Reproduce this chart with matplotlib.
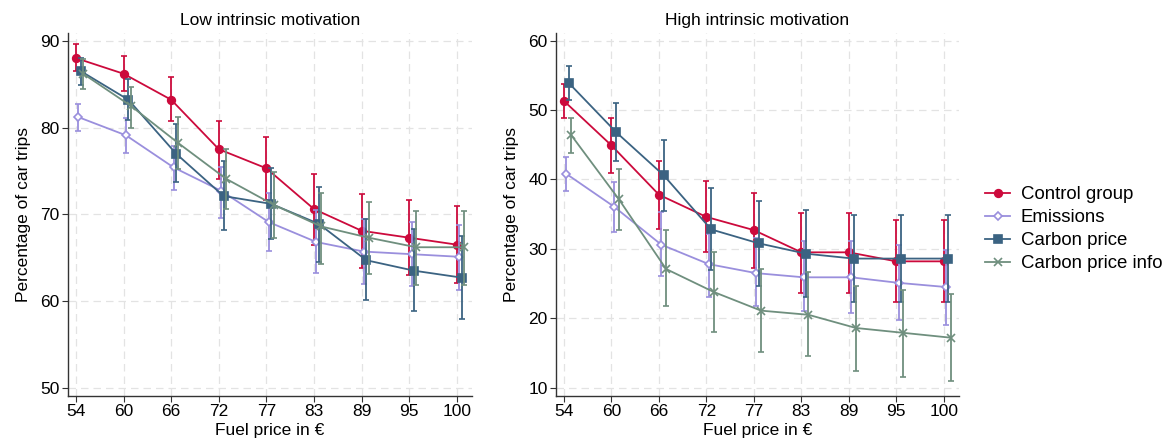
import numpy as np
import matplotlib
matplotlib.use("Agg")
import matplotlib.pyplot as plt

plt.rcParams['font.family'] = ['Liberation Sans', 'DejaVu Sans']

# --- data ---
prices = ['54', '60', '66', '72', '77', '83', '89', '95', '100']
groups = ['Control group', 'Emissions', 'Carbon price', 'Carbon price info']

# low intrinsic motivation: mean, upper CI, lower CI
low_control = [88.0, 86.2, 83.2, 77.5, 75.3, 70.6, 68.1, 67.3, 66.5]
low_control_hi = [89.6, 88.2, 85.8, 80.8, 78.9, 74.6, 72.3, 71.6, 70.9]
low_control_lo = [86.5, 84.2, 80.8, 74.1, 71.7, 66.5, 63.8, 63.0, 62.1]

low_emis = [81.2, 79.1, 75.4, 72.7, 69.1, 66.8, 65.7, 65.4, 65.1]
low_emis_hi = [82.7, 81.1, 77.9, 75.5, 72.5, 70.5, 69.4, 69.1, 68.8]
low_emis_lo = [79.6, 77.1, 72.8, 69.6, 65.8, 63.2, 62.0, 61.7, 61.3]

low_cp = [86.5, 83.2, 77.0, 72.1, 71.2, 68.9, 64.7, 63.5, 62.7]
low_cp_hi = [88.0, 85.6, 80.4, 76.1, 75.3, 73.1, 69.4, 68.3, 67.5]
low_cp_lo = [84.9, 80.9, 73.7, 68.2, 67.2, 64.5, 60.1, 58.8, 57.9]

low_info = [86.2, 82.5, 78.2, 74.1, 71.1, 68.6, 67.3, 66.2, 66.2]
low_info_hi = [87.9, 84.7, 81.2, 77.5, 74.9, 72.5, 71.4, 70.4, 70.4]
low_info_lo = [84.5, 80.0, 75.2, 70.6, 67.3, 64.3, 63.1, 61.9, 61.9]

# high intrinsic motivation
high_control = [51.3, 44.9, 37.8, 34.6, 32.7, 29.5, 29.5, 28.2, 28.2]
high_control_hi = [53.8, 48.8, 42.7, 39.8, 38.1, 35.2, 35.2, 34.1, 34.1]
high_control_lo = [48.8, 40.9, 32.9, 29.5, 27.3, 23.7, 23.7, 22.3, 22.3]

high_emis = [40.8, 36.1, 30.6, 27.8, 26.5, 25.9, 25.9, 25.1, 24.5]
high_emis_hi = [43.3, 39.7, 35.3, 32.2, 31.6, 31.1, 31.1, 30.5, 29.9]
high_emis_lo = [38.3, 32.4, 26.1, 23.0, 21.7, 21.0, 20.7, 19.8, 19.0]

high_cp = [53.9, 46.8, 40.6, 32.8, 30.8, 29.3, 28.6, 28.6, 28.6]
high_cp_hi = [56.4, 51.0, 45.7, 38.8, 36.9, 35.6, 34.9, 34.9, 34.9]
high_cp_lo = [51.4, 42.6, 35.4, 27.0, 24.7, 23.1, 22.3, 22.3, 22.3]

high_info = [46.4, 37.2, 27.1, 23.8, 21.1, 20.5, 18.6, 17.9, 17.2]
high_info_hi = [48.9, 41.5, 32.7, 29.6, 27.1, 26.6, 24.7, 24.1, 23.5]
high_info_lo = [43.8, 32.7, 21.7, 18.0, 15.2, 14.5, 12.4, 11.6, 10.9]

colors = ['#CC0A3C', '#9A8FDD', '#3B6382', '#6F8F7E']
markers = ['o', 'D', 's', 'x']
offsets = [0.0, 0.05, 0.1, 0.15]

panels = [
    ('Low intrinsic motivation',
     [(low_control, low_control_lo, low_control_hi),
      (low_emis, low_emis_lo, low_emis_hi),
      (low_cp, low_cp_lo, low_cp_hi),
      (low_info, low_info_lo, low_info_hi)],
     [50, 60, 70, 80, 90], (49.05, 90.9)),
    ('High intrinsic motivation',
     [(high_control, high_control_lo, high_control_hi),
      (high_emis, high_emis_lo, high_emis_hi),
      (high_cp, high_cp_lo, high_cp_hi),
      (high_info, high_info_lo, high_info_hi)],
     [10, 20, 30, 40, 50, 60], (8.8, 61.1)),
]

fig = plt.figure(figsize=(11.66, 4.43), dpi=100)
axes_pos = [[0.0583, 0.1061, 0.3465, 0.8194], [0.4768, 0.1061, 0.3456, 0.8194]]

x = np.arange(len(prices))
handles = []
for pos, (title, series, yticks, ylim) in zip(axes_pos, panels):
    ax = fig.add_axes(pos)
    for i, (m, lo, hi) in enumerate(series):
        m = np.array(m)
        err = [m - np.array(lo), np.array(hi) - m]
        face = 'white' if markers[i] == 'D' else colors[i]
        h = ax.errorbar(x + offsets[i], m, yerr=err, color=colors[i], marker=markers[i],
                        ms=5.5 if markers[i] != 'D' else 4.5, mfc=face, mec=colors[i],
                        mew=1.2, lw=1.3, elinewidth=1.3, capsize=2, capthick=1.3,
                        label=groups[i], zorder=3 + i)
        if len(handles) < 4:
            handles.append(h[0])
    ax.set_xticks(x)
    ax.set_xticklabels(prices)
    ax.set_yticks(yticks)
    ax.set_xlim(-0.17, 8.32)
    ax.set_ylim(*ylim)
    ax.grid(True, ls=(0, (6, 4)), color='#e3e3e3', lw=0.9)
    ax.set_axisbelow(True)
    for s in ['top', 'right']:
        ax.spines[s].set_visible(False)
    for s in ['left', 'bottom']:
        ax.spines[s].set_color('#333333')
        ax.spines[s].set_linewidth(1.0)
    ax.tick_params(labelsize=12.5, color='#333333', length=4, pad=2)
    ax.set_title(title, fontsize=12.5, pad=6)
    ax.set_xlabel('Fuel price in €', fontsize=12.5, labelpad=3)
    ax.set_ylabel('Percentage of car trips', fontsize=12.5, labelpad=7)

fig.legend(handles, groups, loc='center left', bbox_to_anchor=(0.845, 0.483),
           frameon=False, fontsize=13.4, handlelength=1.35, handletextpad=0.55,
           labelspacing=0.32, borderaxespad=0, borderpad=0)

fig.savefig('out.png', dpi=100, facecolor='white')
